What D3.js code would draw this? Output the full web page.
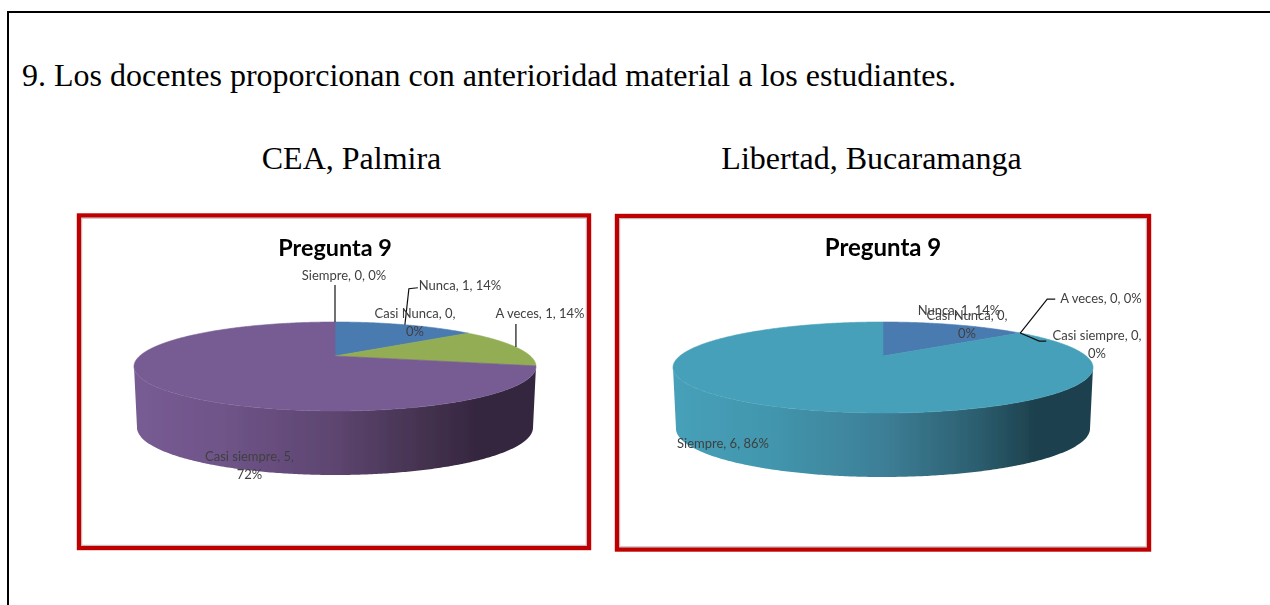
<!DOCTYPE html>
<html>
<head>
<meta charset="utf-8">
<script src="https://cdn.jsdelivr.net/npm/d3@7"></script>
<style>
    html, body { margin: 0; padding: 0; background: #fff; overflow: hidden; }
    .heading { font-family: "Liberation Serif", serif; fill: #000; font-size: 32px; }
    .title { font-family: Lato, sans-serif; font-weight: 700; fill: #000; }
    .label { font-family: Lato, sans-serif; font-size: 13px; fill: #404040; }
    .leader { fill: none; stroke: #111; stroke-width: 1.2; }
</style>
</head>
<body>
<div id="chart"></div>
<script>
var categories = ["Nunca", "Casi Nunca", "A veces", "Casi siempre", "Siempre"];
var colors = ["#4a7ab0", "#b5504d", "#92ad52", "#775c93", "#46a0b9"];

var valuesCea = [1, 0, 1, 5, 0];
var percentCea = [14, 0, 14, 72, 0];
var valuesLibertad = [1, 0, 0, 0, 6];
var percentLibertad = [14, 0, 0, 0, 86];

var heading = "9. Los docentes proporcionan con anterioridad material a los estudiantes.";
var chartTitle = "Pregunta 9";

var svg = d3.select("#chart").append("svg")
    .attr("width", 1270).attr("height", 605).style("display", "block");

var defs = svg.append("defs");

// the charts in the original are a soft, scaled-up screenshot
defs.append("filter").attr("id", "soft").append("feGaussianBlur").attr("stdDeviation", 0.45);

// page frame
svg.append("path").attr("d", "M8,605V12H1270").attr("fill", "none").attr("stroke", "#000").attr("stroke-width", 2);

svg.append("text").attr("class", "heading").attr("x", 22).attr("y", 86).text(heading);
svg.append("text").attr("class", "heading").attr("x", 351.5).attr("y", 169).attr("text-anchor", "middle").text("CEA, Palmira");
svg.append("text").attr("class", "heading").attr("x", 871.5).attr("y", 169).attr("text-anchor", "middle").text("Libertad, Bucaramanga");

drawPie({
    id: "cea", values: valuesCea, percent: percentCea,
    box: [79, 215.5, 510, 332.5], titleX: 335, titleSize: 23.4,
    cx: 335, apexY: 356, top: 322, bottom: 411, halfWidth: 201, rimDrop: 64, sideInset: 3,
    sideStops: ["#775c93", "#6f5489", "#5d4570", "#44324f", "#35263f", "#35263f"],
    labels: [
        { i: 0, x: 460, y: 290, leader: [[4, -36], [13, -37]] },
        { i: 1, x: 415, y: 318, wrap: true },
        { i: 2, x: 540, y: 318, leader: [[0, -23]] },
        { i: 3, x: 249.5, y: 461, wrap: true },
        { i: 4, x: 344, y: 280, leader: [[0, -37]] }
    ]
});

drawPie({
    id: "libertad", values: valuesLibertad, percent: percentLibertad,
    box: [617, 216, 532, 333.5], titleX: 883, titleSize: 24,
    cx: 883, apexY: 356, top: 322, bottom: 413, halfWidth: 210, rimDrop: 64, sideInset: 3,
    sideStops: ["#46a0b9", "#4297ae", "#3d7f97", "#2c5f70", "#1e414e", "#1e414e"],
    labels: [
        { i: 0, x: 959, y: 315 },
        { i: 1, x: 967, y: 320, wrap: true },
        { i: 2, x: 1101, y: 303, leader: [[27, -34], [35, -34]] },
        { i: 3, x: 1097, y: 340, wrap: true, leader: [[19, 8], [26, 8]] },
        { i: 4, x: 723, y: 448 }
    ]
});

function drawPie(opt) {
    var g = svg.append("g").attr("id", opt.id);
    var bx = opt.box;

    // red frame with the thin grey line of the chart area inside it
    g.append("rect").attr("x", bx[0]).attr("y", bx[1]).attr("width", bx[2]).attr("height", bx[3])
        .attr("fill", "#fff").attr("stroke", "#c00000").attr("stroke-width", 4.4);
    g.append("rect").attr("x", bx[0] + 2.7).attr("y", bx[1] + 2.7).attr("width", bx[2] - 5.4).attr("height", bx[3] - 5.4)
        .attr("fill", "none").attr("stroke", "#b8b8b8").attr("stroke-width", 1);

    var inner = g.append("g").attr("filter", "url(#soft)");

    inner.append("text").attr("class", "title").attr("x", opt.titleX).attr("y", bx[1] + 40)
        .attr("text-anchor", "middle").style("font-size", opt.titleSize + "px").text(chartTitle);

    // perspective of a tilted disc: far half squeezed, near half stretched
    var up = opt.apexY - opt.top, down = opt.bottom - opt.apexY;
    var k = (down - up) / (down + up);
    var b = up * (1 + k);
    var R = opt.halfWidth * Math.sqrt(1 - k * k);

    function project(theta) {
        var u = Math.sin(theta), v = Math.cos(theta);
        return [opt.cx + R * u / (1 + k * v), opt.apexY - b * v / (1 + k * v)];
    }

    // lower rim: slightly narrower and stretched
    var midY = opt.apexY + 11;
    var lowMid = midY + opt.rimDrop - 3;
    function projectLow(theta) {
        var p = project(theta);
        return [
            opt.cx + (p[0] - opt.cx) * (opt.halfWidth - opt.sideInset) / opt.halfWidth,
            lowMid + (p[1] - midY) * (opt.bottom + opt.rimDrop - lowMid) / (opt.bottom - midY)
        ];
    }

    var line = d3.line();
    var arcs = d3.pie().sort(null)(opt.values);

    // side wall, shaded from left to right
    var gradId = "side-" + opt.id;
    var grad = defs.append("linearGradient").attr("id", gradId);
    var stopAt = [0, 0.22, 0.5, 0.72, 0.86, 1];
    opt.sideStops.forEach(function (col, i) {
        grad.append("stop").attr("offset", stopAt[i]).attr("stop-color", col);
    });

    var start = rimWidest(project, 1), end = rimWidest(project, -1);
    var wall = d3.range(start, end, 0.01).map(project);
    var low = d3.range(end, start, -0.01).map(projectLow);
    inner.append("path").attr("d", line(wall.concat(low)) + "Z").attr("fill", "url(#" + gradId + ")");

    // top slices
    arcs.forEach(function (a, i) {
        if (a.value === 0) return;
        var pts = d3.range(a.startAngle, a.endAngle, 0.01).map(project);
        pts.push(project(a.endAngle));
        pts.unshift([opt.cx, opt.apexY]);
        inner.append("path").attr("d", line(pts) + "Z").attr("fill", colors[i])
            .attr("stroke", colors[i]).attr("stroke-width", 0.6);
    });

    // labels
    opt.labels.forEach(function (l) {
        var a = arcs[l.i];
        var name = categories[l.i] + ", " + opt.values[l.i] + ", " + opt.percent[l.i] + "%";
        if (l.leader) {
            var anchor = project((a.startAngle + a.endAngle) / 2);
            var pts = [anchor].concat(l.leader.map(function (d) { return [anchor[0] + d[0], anchor[1] + d[1]]; }));
            inner.append("path").attr("class", "leader").attr("d", line(pts));
        }
        // wrapped labels break before the percentage
        var cut = name.lastIndexOf(" ");
        var lines = l.wrap ? [name.slice(0, cut), name.slice(cut + 1)] : [name];
        var t = inner.append("text").attr("class", "label").attr("text-anchor", "middle").attr("x", l.x).attr("y", l.y);
        lines.forEach(function (s, n) {
            t.append("tspan").attr("x", l.x).attr("dy", n ? 18 : 0).text(s);
        });
    });
}

// angle at which the rim is widest on the right (dir 1) or left (dir -1)
function rimWidest(project, dir) {
    var best = 0, bestX = -Infinity;
    d3.range(0, Math.PI * 2, 0.005).forEach(function (t) {
        var x = project(t)[0] * dir;
        if (x > bestX) { bestX = x; best = t; }
    });
    return best;
}
</script>
</body>
</html>
